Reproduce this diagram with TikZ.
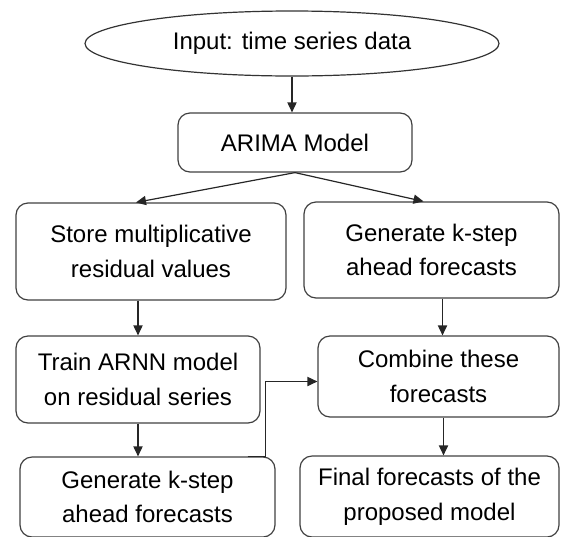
\documentclass[tikz,border=0pt]{standalone}
\usepackage{fontspec}
\setmainfont{Liberation Sans}
\usetikzlibrary{shapes.geometric,arrows.meta,positioning}

\begin{document}
\begin{tikzpicture}[x=0.5pt,y=-0.5pt,
  every node/.style={font=\fontsize{12pt}{17.4pt}\selectfont, text=black, align=center, inner sep=0pt},
  stepbox/.style={draw=black!75, line width=0.6pt, rounded corners=6pt, rectangle},
  startbox/.style={draw=black!80, line width=0.6pt, ellipse},
  arr/.style={draw=black!85, line width=0.6pt, -{Triangle[length=5pt,width=4.6pt]}}]

  \useasboundingbox (0,0) rectangle (561,536);

  % nodes (centres and sizes in pixel units)
  \node[startbox, minimum width=207pt, minimum height=32.5pt] (inp) at (292,43.5) {Input: time series data};
  \node[stepbox, minimum width=117pt, minimum height=29.5pt] (arima) at (295,142.5) {ARIMA Model};
  \node[stepbox, minimum width=135pt, minimum height=48.5pt] (store) at (151,251.5) {Store multiplicative\\residual values};
  \node[stepbox, minimum width=127.5pt, minimum height=48pt] (gen1) at (431.5,250) {Generate k-step\\ahead forecasts};
  \node[stepbox, minimum width=122pt, minimum height=43.5pt] (train) at (138,379.5) {Train ARNN model\\on residual series};
  \node[stepbox, minimum width=120.5pt, minimum height=40.5pt] (comb) at (438.5,376.5) {Combine these\\forecasts};
  \node[stepbox, minimum width=127.5pt, minimum height=40pt] (gen2) at (147.5,497) {Generate k-step\\ahead forecasts};
  \node[stepbox, minimum width=129.5pt, minimum height=40.5pt] (final) at (429.5,496.5) {Final forecasts of the\\proposed model};

  % connectors
  \draw[arr] (inp.south) -- (arima.north -| inp.south);
  \draw[arr] (arima.south) -- ([xshift=-7.5pt]store.north);
  \draw[arr] (arima.south) -- ([xshift=-4pt]gen1.north);
  \draw[arr] (store.south -| train.north) -- (train.north);
  \draw[arr] ([xshift=5.5pt]gen1.south) -- ([xshift=2pt]comb.north);
  \draw[arr] (train.south) -- (train.south |- gen2.north);
  \draw[arr] ([xshift=2.5pt]comb.south) -- ([xshift=2.5pt]comb.south |- final.north);
  \draw[arr] ([xshift=-14pt]gen2.north east) -- ++(18,0) |- ([yshift=-2.5pt]comb.west);
\end{tikzpicture}
\end{document}
